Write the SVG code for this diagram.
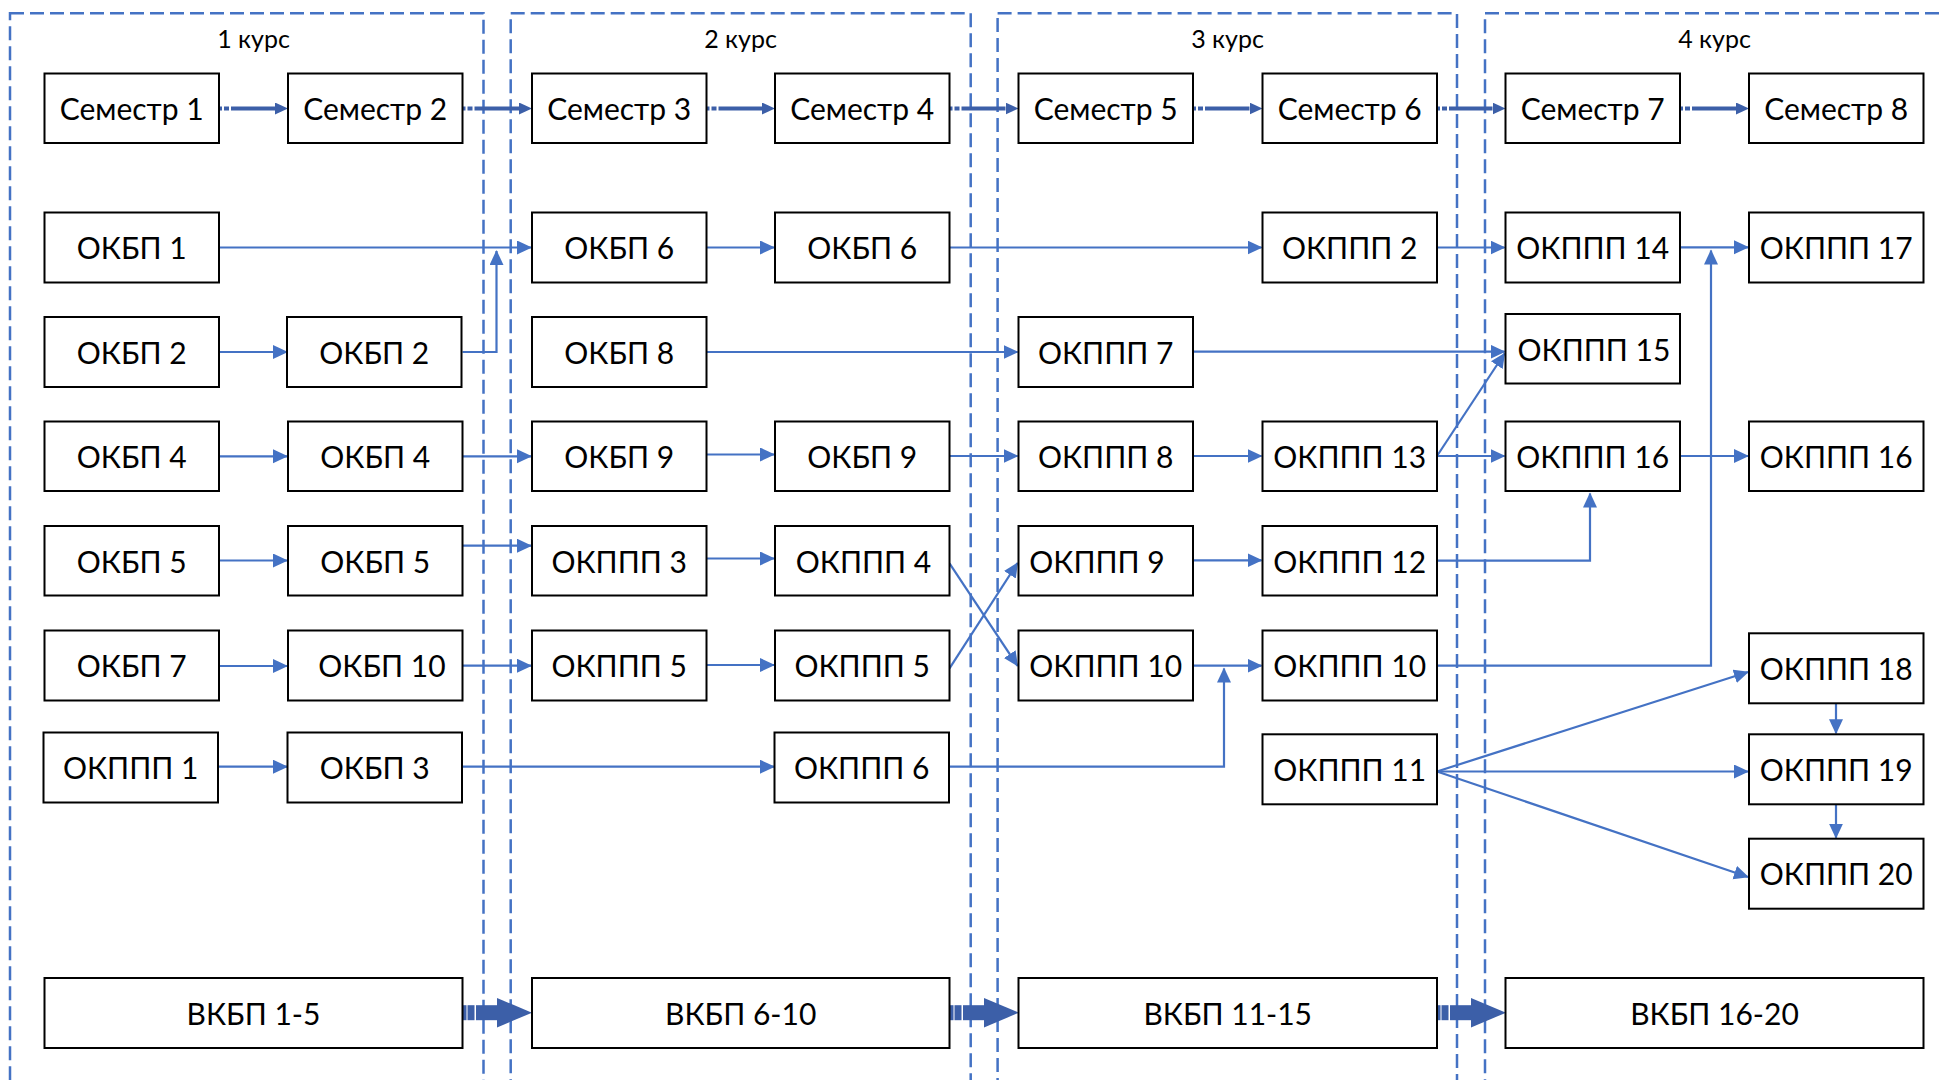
<svg xmlns="http://www.w3.org/2000/svg" xmlns:xlink="http://www.w3.org/1999/xlink" width="1945" height="1080" viewBox="0 0 1945 1080">
<style>
  .frame{fill:none;stroke:#4472c4;stroke-width:2.5;stroke-dasharray:14 6}
  .box rect{fill:#ffffff;stroke:#000000;stroke-width:2}
  .box text{font-family:Lato,"Liberation Sans",sans-serif;font-size:30px;fill:#000000;text-anchor:middle}
  .course{font-family:Lato,"Liberation Sans",sans-serif;font-size:25px;fill:#000000;text-anchor:middle}
  .conn path{fill:none;stroke:#4472c4;stroke-width:2.2;marker-end:url(#ah)}
  .sem line{stroke:#3c5fa8;stroke-width:4;stroke-dasharray:3 2 5 2 200;marker-end:url(#sh)}
  .big{fill:#3c5fa8}
</style>
<defs>
  <marker id="ah" markerUnits="userSpaceOnUse" markerWidth="16" markerHeight="15" refX="14" refY="7" orient="auto">
    <path d="M0,0 L15,7 L0,14 z" fill="#4472c4"/>
  </marker>
  <marker id="sh" markerUnits="userSpaceOnUse" markerWidth="14" markerHeight="13" refX="0" refY="6" orient="auto">
    <path d="M0,0 L13,6 L0,12 z" fill="#3c5fa8"/>
  </marker>
  <g id="bigArrow" class="big">
    <rect x="0" y="-7.5" width="4" height="15"/>
    <rect x="5" y="-7.5" width="7" height="15"/>
    <rect x="13.5" y="-7.5" width="21.5" height="15"/>
    <path d="M34.5,-14.7 L69.5,0 L34.5,14.7 z"/>
  </g>
</defs>
<rect width="1945" height="1080" fill="#ffffff"/>

<g id="frames">
  <rect class="frame" x="10" y="13.3" width="473.5" height="1100"/>
  <rect class="frame" x="510.7" y="13.3" width="460" height="1100"/>
  <rect class="frame" x="997.6" y="13.3" width="459.4" height="1100"/>
  <rect class="frame" x="1485" y="13.3" width="520" height="1100"/>
  <text class="course" x="253.5" y="48">1 курс</text>
  <text class="course" x="740.5" y="48">2 курс</text>
  <text class="course" x="1227.5" y="48">3 курс</text>
  <text class="course" x="1714.5" y="48">4 курс</text>
</g>

<g id="connectors">
  <g class="sem">
    <line x1="219" y1="108.5" x2="275" y2="108.5"/>
    <line x1="462.5" y1="108.5" x2="519" y2="108.5"/>
    <line x1="706.5" y1="108.5" x2="762" y2="108.5"/>
    <line x1="949.5" y1="108.5" x2="1005.5" y2="108.5"/>
    <line x1="1193" y1="108.5" x2="1249.5" y2="108.5"/>
    <line x1="1437" y1="108.5" x2="1492.5" y2="108.5"/>
    <line x1="1680" y1="108.5" x2="1736" y2="108.5"/>
  </g>
  <g class="conn">
    <path d="M219 247.5 H531"/>
    <path d="M219 352 H287"/>
    <path d="M462.5 352 H496.5 V251"/>
    <path d="M706.5 247.5 H774"/>
    <path d="M949.5 247.5 H1261.5"/>
    <path d="M1437 247.5 H1504.5"/>
    <path d="M1680 247.3 H1748"/>
    <path d="M706.5 352 H1017.5"/>
    <path d="M1193 351.7 H1504.5"/>
    <path d="M219 456.3 H287"/>
    <path d="M462.5 456.3 H531"/>
    <path d="M706.5 454.5 H774"/>
    <path d="M949.5 456 H1017.5"/>
    <path d="M1193 456 H1261.5"/>
    <path d="M1437 456 H1504.5"/>
    <path d="M1437 456 L1504.5 353.5"/>
    <path d="M1680 456 H1748"/>
    <path d="M219 560.5 H287"/>
    <path d="M462.5 545.7 H531"/>
    <path d="M706.5 558.5 H774"/>
    <path d="M949.5 563.3 L1017.5 665.8"/>
    <path d="M1193 560.3 H1261.5"/>
    <path d="M1437 560.7 H1590 V493.5"/>
    <path d="M219 666 H287"/>
    <path d="M462.5 665.7 H531"/>
    <path d="M706.5 665 H774"/>
    <path d="M949.5 668.3 L1017.5 563"/>
    <path d="M1193 665.7 H1261.5"/>
    <path d="M949.5 766.7 H1224 V668.5"/>
    <path d="M1437 665.7 H1711 V250.5"/>
    <path d="M219 766.7 H287"/>
    <path d="M462.5 766.7 H774"/>
    <path d="M1437 771.5 L1748 672"/>
    <path d="M1437 771.5 H1748"/>
    <path d="M1437 771.5 L1748 877"/>
    <path d="M1836 703.3 V733.3"/>
    <path d="M1836 804.3 V837.7"/>
  </g>
  <use xlink:href="#bigArrow" x="462.5" y="1012.7"/>
  <use xlink:href="#bigArrow" x="949.5" y="1012.7"/>
  <use xlink:href="#bigArrow" x="1436.5" y="1012.7"/>
</g>

<g id="sem1" class="box"><rect x="44.5" y="73.5" width="174.5" height="69.5"/><text x="131.7" y="120">Семестр 1</text></g>
<g id="sem2" class="box"><rect x="288" y="73.5" width="174.5" height="69.5"/><text x="375.2" y="120">Семестр 2</text></g>
<g id="sem3" class="box"><rect x="532" y="73.5" width="174.5" height="69.5"/><text x="619.2" y="120">Семестр 3</text></g>
<g id="sem4" class="box"><rect x="775" y="73.5" width="174.5" height="69.5"/><text x="862.2" y="120">Семестр 4</text></g>
<g id="sem5" class="box"><rect x="1018.5" y="73.5" width="174.5" height="69.5"/><text x="1105.7" y="120">Семестр 5</text></g>
<g id="sem6" class="box"><rect x="1262.5" y="73.5" width="174.5" height="69.5"/><text x="1349.7" y="120">Семестр 6</text></g>
<g id="sem7" class="box"><rect x="1505.5" y="73.5" width="174.5" height="69.5"/><text x="1592.7" y="120">Семестр 7</text></g>
<g id="sem8" class="box"><rect x="1749" y="73.5" width="174.5" height="69.5"/><text x="1836.2" y="120">Семестр 8</text></g>

<g id="r1c1" class="box"><rect x="44.5" y="212.5" width="174.5" height="70"/><text x="131.7" y="259">ОКБП 1</text></g>
<g id="r1c3" class="box"><rect x="532" y="212.5" width="174.5" height="70"/><text x="619.2" y="259">ОКБП 6</text></g>
<g id="r1c4" class="box"><rect x="775" y="212.5" width="174.5" height="70"/><text x="862.2" y="259">ОКБП 6</text></g>
<g id="r1c6" class="box"><rect x="1262.5" y="212.5" width="174.5" height="70"/><text x="1349.7" y="259">ОКППП 2</text></g>
<g id="r1c7" class="box"><rect x="1505.5" y="212.5" width="174.5" height="70"/><text x="1592.7" y="259">ОКППП 14</text></g>
<g id="r1c8" class="box"><rect x="1749" y="212.5" width="174.5" height="70"/><text x="1836.2" y="259">ОКППП 17</text></g>

<g id="r2c1" class="box"><rect x="44.5" y="317" width="174.5" height="70"/><text x="131.7" y="363.5">ОКБП 2</text></g>
<g id="r2c2" class="box"><rect x="287" y="317" width="174.5" height="70"/><text x="374.2" y="363.5">ОКБП 2</text></g>
<g id="r2c3" class="box"><rect x="532" y="317" width="174.5" height="70"/><text x="619.2" y="363.5">ОКБП 8</text></g>
<g id="r2c5" class="box"><rect x="1018.5" y="317" width="174.5" height="70"/><text x="1105.7" y="363.5">ОКППП 7</text></g>
<g id="r2c7" class="box"><rect x="1505.5" y="314" width="174.5" height="69.5"/><text x="1594" y="360.5">ОКППП 15</text></g>

<g id="r3c1" class="box"><rect x="44.5" y="421.5" width="174.5" height="69.5"/><text x="131.7" y="467.8">ОКБП 4</text></g>
<g id="r3c2" class="box"><rect x="288" y="421.5" width="174.5" height="69.5"/><text x="375.2" y="467.8">ОКБП 4</text></g>
<g id="r3c3" class="box"><rect x="532" y="421.5" width="174.5" height="69.5"/><text x="619.2" y="467.8">ОКБП 9</text></g>
<g id="r3c4" class="box"><rect x="775" y="421.5" width="174.5" height="69.5"/><text x="862.2" y="467.8">ОКБП 9</text></g>
<g id="r3c5" class="box"><rect x="1018.5" y="421.5" width="174.5" height="69.5"/><text x="1105.7" y="467.8">ОКППП 8</text></g>
<g id="r3c6" class="box"><rect x="1262.5" y="421.5" width="174.5" height="69.5"/><text x="1349.7" y="467.8">ОКППП 13</text></g>
<g id="r3c7" class="box"><rect x="1505.5" y="421.5" width="174.5" height="69.5"/><text x="1592.7" y="467.8">ОКППП 16</text></g>
<g id="r3c8" class="box"><rect x="1749" y="421.5" width="174.5" height="69.5"/><text x="1836.2" y="467.8">ОКППП 16</text></g>

<g id="r4c1" class="box"><rect x="44.5" y="526" width="174.5" height="69.5"/><text x="131.7" y="572.5">ОКБП 5</text></g>
<g id="r4c2" class="box"><rect x="288" y="526" width="174.5" height="69.5"/><text x="375.2" y="572.5">ОКБП 5</text></g>
<g id="r4c3" class="box"><rect x="532" y="526" width="174.5" height="69.5"/><text x="619.2" y="572.5">ОКППП 3</text></g>
<g id="r4c4" class="box"><rect x="775" y="526" width="174.5" height="69.5"/><text x="863.5" y="572.5">ОКППП 4</text></g>
<g id="r4c5" class="box"><rect x="1018.5" y="526" width="174.5" height="69.5"/><text x="1097" y="572.5">ОКППП 9</text></g>
<g id="r4c6" class="box"><rect x="1262.5" y="526" width="174.5" height="69.5"/><text x="1349.7" y="572.5">ОКППП 12</text></g>

<g id="r5c1" class="box"><rect x="44.5" y="630.5" width="174.5" height="70"/><text x="131.7" y="677">ОКБП 7</text></g>
<g id="r5c2" class="box"><rect x="288" y="630.5" width="174.5" height="70"/><text x="382" y="677">ОКБП 10</text></g>
<g id="r5c3" class="box"><rect x="532" y="630.5" width="174.5" height="70"/><text x="619.2" y="677">ОКППП 5</text></g>
<g id="r5c4" class="box"><rect x="775" y="630.5" width="174.5" height="70"/><text x="862.2" y="677">ОКППП 5</text></g>
<g id="r5c5" class="box"><rect x="1018.5" y="630.5" width="174.5" height="70"/><text x="1105.7" y="677">ОКППП 10</text></g>
<g id="r5c6" class="box"><rect x="1262.5" y="630.5" width="174.5" height="70"/><text x="1349.7" y="677">ОКППП 10</text></g>
<g id="r5c8" class="box"><rect x="1749" y="633.3" width="174.5" height="70"/><text x="1836.2" y="679.8">ОКППП 18</text></g>

<g id="r6c1" class="box"><rect x="43.5" y="732.5" width="174.5" height="70"/><text x="130.7" y="779">ОКППП 1</text></g>
<g id="r6c2" class="box"><rect x="287.5" y="732.5" width="174.5" height="70"/><text x="374.7" y="779">ОКБП 3</text></g>
<g id="r6c4" class="box"><rect x="774.5" y="732.5" width="174.5" height="70"/><text x="861.7" y="779">ОКППП 6</text></g>
<g id="r6c6" class="box"><rect x="1262.5" y="734.3" width="174.5" height="70"/><text x="1349.7" y="780.8">ОКППП 11</text></g>
<g id="r6c8" class="box"><rect x="1749" y="734.3" width="174.5" height="70"/><text x="1836.2" y="780.8">ОКППП 19</text></g>
<g id="r7c8" class="box"><rect x="1749" y="838.7" width="174.5" height="70"/><text x="1836.2" y="885.2">ОКППП 20</text></g>

<g id="vkbp1" class="box"><rect x="44.5" y="978" width="418" height="70"/><text x="253.5" y="1024.5">ВКБП 1-5</text></g>
<g id="vkbp2" class="box"><rect x="532" y="978" width="417.5" height="70"/><text x="740.7" y="1024.5">ВКБП 6-10</text></g>
<g id="vkbp3" class="box"><rect x="1018.5" y="978" width="418.5" height="70"/><text x="1227.7" y="1024.5">ВКБП 11-15</text></g>
<g id="vkbp4" class="box"><rect x="1505.5" y="978" width="418" height="70"/><text x="1714.5" y="1024.5">ВКБП 16-20</text></g>
</svg>
